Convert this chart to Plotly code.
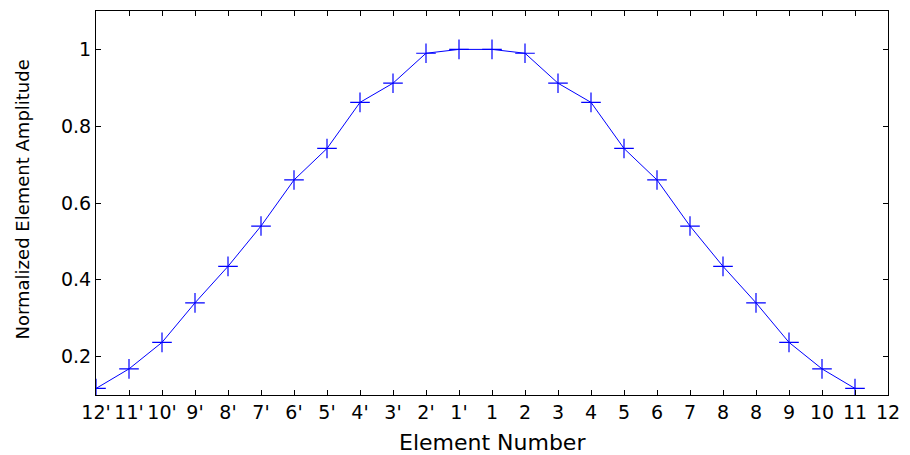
import plotly.graph_objects as go

element_labels = ["12'", "11'", "10'", "9'", "8'", "7'", "6'", "5'", "4'", "3'", "2'", "1'",
                  "1", "2", "3", "4", "5", "6", "7", "8", "8", "9", "10", "11", "12"]
element_index = list(range(1, 25))
amplitude = [0.117, 0.168, 0.237, 0.340, 0.435, 0.540, 0.660, 0.742, 0.862, 0.912, 0.990, 1.000,
             1.000, 0.990, 0.912, 0.862, 0.742, 0.660, 0.540, 0.435, 0.340, 0.237, 0.168, 0.117]
y_ticks = [0.2, 0.4, 0.6, 0.8, 1.0]
y_ticktext = ["0.2", "0.4", "0.6", "0.8", "1"]

FONT = "DejaVu Sans"

fig = go.Figure()
fig.add_trace(go.Scatter(
    x=element_index, y=amplitude, mode="lines+markers",
    line=dict(color="#0000ff", width=1),
    marker=dict(symbol="cross-thin-open", size=14, line=dict(color="#0000ff", width=1.2)),
    showlegend=False,
))

axis_common = dict(showline=True, linecolor="black", linewidth=1, mirror="ticks",
                   ticks="inside", ticklen=5, tickcolor="black", showgrid=False, zeroline=False,
                   tickfont=dict(family=FONT, size=19, color="black"))

fig.update_layout(
    width=910, height=455,
    margin=dict(l=96, r=15, t=10, b=60),
    paper_bgcolor="white", plot_bgcolor="white",
    xaxis=dict(range=[1, 25], tickmode="array", tickvals=list(range(1, 26)),
               ticktext=element_labels, **axis_common),
    yaxis=dict(range=[0.1, 1.1], tickmode="array", tickvals=y_ticks,
               ticktext=y_ticktext, **axis_common),
    annotations=[
        dict(text="Element Number", xref="paper", yref="paper", x=0.5, y=-0.124,
             xanchor="center", yanchor="middle", showarrow=False,
             font=dict(family=FONT, size=22, color="black")),
        dict(text="Normalized Element Amplitude", xref="paper", yref="paper", x=-0.093, y=0.51,
             xanchor="center", yanchor="middle", showarrow=False, textangle=-90,
             font=dict(family=FONT, size=18, color="black")),
    ],
)

fig.write_html("out.html")
